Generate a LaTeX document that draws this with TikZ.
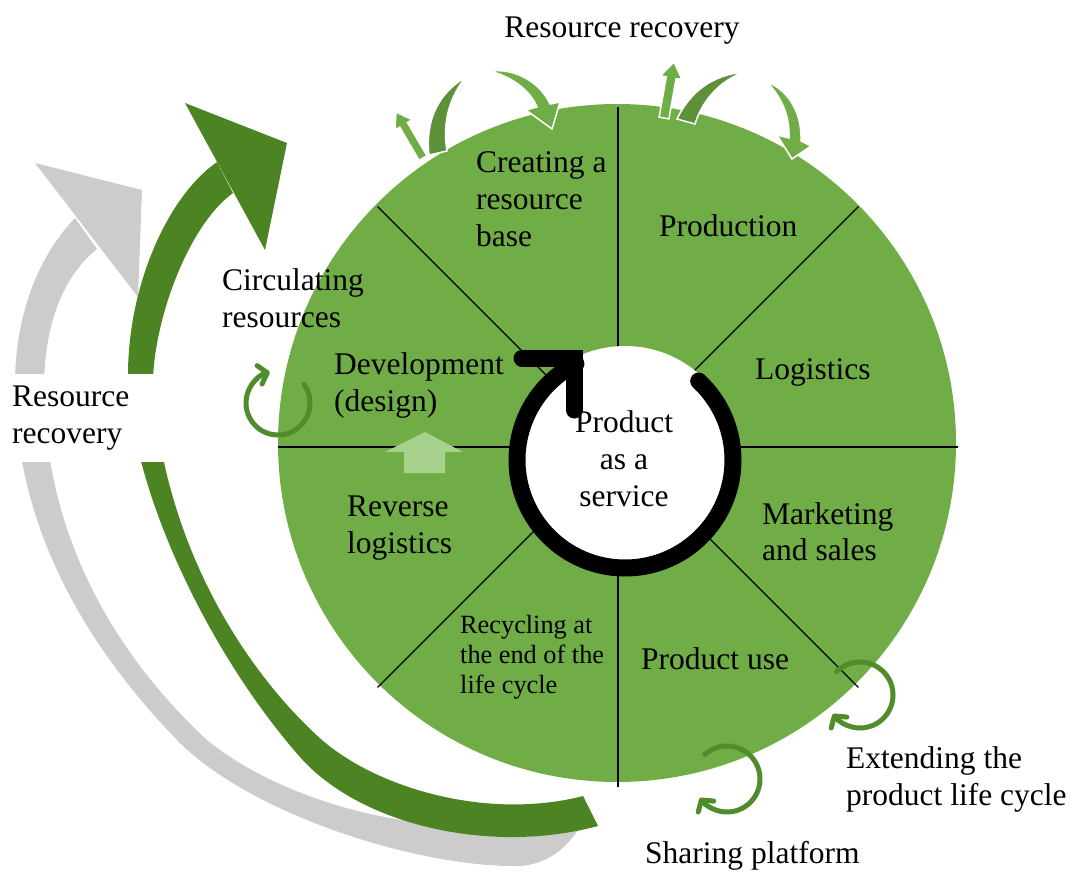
\documentclass[tikz,border=0pt]{standalone}
\usepackage{fontspec}
\setmainfont{Liberation Serif}
\usetikzlibrary{arrows.meta}
\definecolor{mgreen}{HTML}{70AD47}
\definecolor{bgreen}{HTML}{4C8424}
\definecolor{agrey}{HTML}{CCCCCC}
\definecolor{cgreen}{HTML}{5C9039}
\definecolor{rgreen}{HTML}{4F8C2B}
\definecolor{ugreen}{HTML}{A9D18E}
\begin{document}
\begin{tikzpicture}[x=1pt,y=-1pt,
  lbl/.style={font=\fontsize{31.5}{37}\selectfont, align=left, inner sep=0pt, anchor=base west},
  sml/.style={font=\fontsize{26.3}{30}\selectfont, align=left, inner sep=0pt, anchor=base west},
  circarrow/.style={draw=rgreen, line width=5pt, line cap=round, -{Straight Barb[length=8pt,width=19pt,round]}},
  smallshape/.style={draw=white, line width=1.5pt, line join=miter},
  divline/.style={draw=black, line width=1.3pt}]
\useasboundingbox (0,0) rectangle (1073,873);

% grey big curved arrow
\fill[agrey] (75,218) .. controls (35,260) and (15,320) .. (15,385)
  .. controls (15,520) and (80,640) .. (177,740)
  .. controls (250,815) and (420,868) .. (520,866)
  .. controls (548,864) and (566,848) .. (578,830)
  -- (570,815)
  .. controls (430,848) and (280,800) .. (207,740)
  .. controls (110,650) and (45,530) .. (44,390)
  .. controls (44,320) and (65,275) .. (97,249) -- cycle;
\fill[agrey] (35,163) -- (142,190) -- (138,297) -- cycle;

% green big curved arrow
\fill[bgreen] (217,162) .. controls (168,196) and (128,285) .. (128,375)
  .. controls (130,490) and (210,655) .. (300,757)
  .. controls (360,825) and (490,855) .. (598,826)
  -- (583,796)
  .. controls (490,820) and (380,790) .. (322,740)
  .. controls (260,685) and (168,565) .. (153,390)
  .. controls (151,330) and (185,228) .. (233,193) -- cycle;
\fill[bgreen] (185,103) -- (287,143) -- (265,250) -- cycle;

% white band behind left label
\fill[white] (0,374) rectangle (168,462);

% main circle
\fill[mgreen] (617,443) circle[radius=339];
\coordinate (cc) at (618,447);
\foreach \a in {0,45,...,315} \draw[divline] (cc) -- ++(\a:340);

% inner white circle and black ring
\fill[white] (625,458) circle[radius=112];
\draw[line width=17pt, line cap=round] (625,460) ++(-47:108) arc[start angle=-47, end angle=243, radius=108];
\draw[line width=17pt, line cap=round, line join=miter] (522,358) -- (574,358) -- (574,410);

% small arrows at the top
\filldraw[fill=mgreen, smallshape] (419.1,160.3) -- (399.7,127.2) -- (395.0,130.0) -- (396,112) -- (412.2,119.8) -- (407.5,122.6) -- (426.9,155.7) -- cycle;
\filldraw[fill=cgreen, smallshape] (429,155) .. controls (425,118) and (440,92) .. (466,77) .. controls (450,96) and (442,122) .. (447,151) -- cycle;
\filldraw[fill=mgreen, smallshape] (490,71) .. controls (515,68) and (540,82) .. (550,104) -- (560,102) -- (552,129) -- (526,110) -- (537,107) .. controls (530,90) and (512,77) .. cycle;

\filldraw[fill=mgreen, smallshape] (659.1,117.1) -- (666.3,76.8) -- (660.4,75.8) -- (674,62) -- (682.0,79.6) -- (676.1,78.6) -- (668.9,118.9) -- cycle;
\filldraw[fill=cgreen, smallshape] (677,119) .. controls (690,92) and (712,75) .. (744,72) .. controls (722,80) and (703,98) .. (695,124) -- cycle;
\filldraw[fill=mgreen, smallshape] (767,82) .. controls (788,90) and (802,112) .. (801,141) -- (811,146) -- (792,159) -- (777,135) -- (789,138) .. controls (790,115) and (781,97) .. cycle;

% circular arrows
\draw[circarrow] (278,403) ++(-36:32) arc[start angle=-36, end angle=255, radius=32];
\draw[circarrow] (860,695) ++(225:33) arc[start angle=225, end angle=505, radius=33];
\draw[circarrow] (727,779) ++(228:33) arc[start angle=228, end angle=505, radius=33];

% up arrow in reverse logistics
\fill[ugreen] (425,432) -- (463,452) -- (445,452) -- (445,473) -- (404,473) -- (404,452) -- (385,452) -- cycle;

% labels (base anchor = baseline of the last line)
\node[lbl, anchor=base] (toprr) at (622,37) {Resource recovery};
\node[lbl] (crb) at (476,246) {Creating a\\resource\\base};
\node[lbl] (prod) at (659,236) {Production};
\node[lbl] (logi) at (755,379) {Logistics};
\node[lbl, font=\fontsize{31.5}{36}\selectfont] (mkt) at (762,560) {Marketing\\and sales};
\node[lbl] (puse) at (641,669) {Product use};
\node[sml] (recyc) at (460,693) {Recycling at\\the end of the\\life cycle};
\node[lbl] (revl) at (347,553) {Reverse\\logistics};
\node[lbl] (dev) at (334,411) {Development\\(design)};
\node[lbl] (circ) at (222,327) {Circulating\\resources};
\node[lbl] (rrl) at (12,443) {Resource\\recovery};
\node[lbl, align=center, anchor=base] (paas) at (624,506) {Product\\as a\\service};
\node[lbl] (ext) at (846,805) {Extending the\\product life cycle};
\node[lbl] (share) at (645,863) {Sharing platform};
\end{tikzpicture}
\end{document}
